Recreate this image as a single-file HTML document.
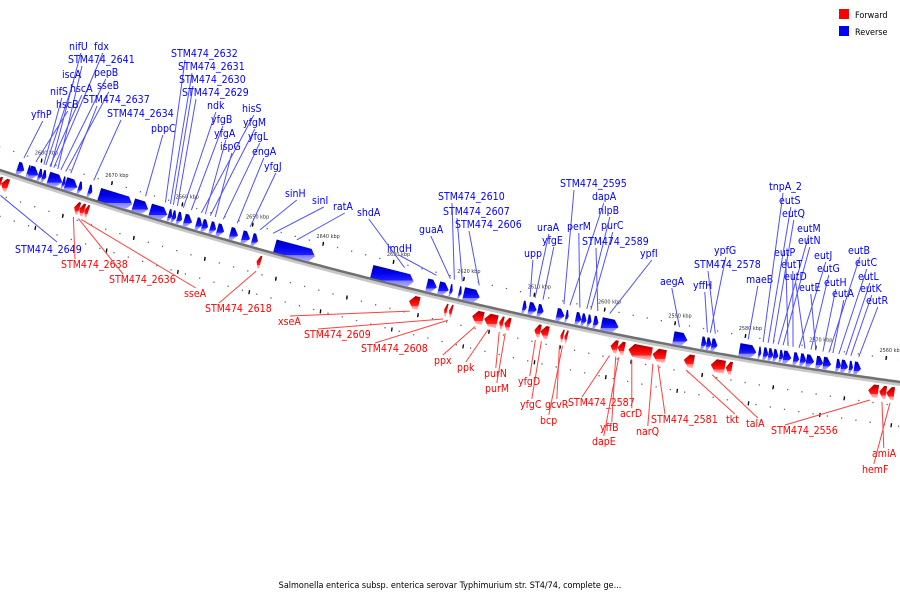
<!DOCTYPE html>
<html><head><meta charset="utf-8"><style>
html,body{margin:0;padding:0;background:#fff;}
svg{display:block;font-family:"DejaVu Sans Condensed","DejaVu Sans","Liberation Sans",sans-serif;}
.lb{font-size:10.5px;font-stretch:condensed;}
</style></head><body>
<svg id="chart" width="900" height="600" viewBox="0 0 900 600" xmlns="http://www.w3.org/2000/svg">
<defs>
<linearGradient id="gb" x1="0" y1="0" x2="0" y2="1"><stop offset="0" stop-color="#0000a0"/><stop offset="0.35" stop-color="#0000ee"/><stop offset="0.7" stop-color="#2020ff"/><stop offset="0.72" stop-color="#8080ff"/><stop offset="1" stop-color="#b0b0ff"/></linearGradient>
<linearGradient id="gr" x1="0" y1="0" x2="0" y2="1"><stop offset="0" stop-color="#a00000"/><stop offset="0.35" stop-color="#ee0000"/><stop offset="0.7" stop-color="#ff2020"/><stop offset="0.72" stop-color="#ff8080"/><stop offset="1" stop-color="#ffc0c0"/></linearGradient>
</defs>
<g id="tracks"></g>
<g id="genes"></g>
<g id="labels"></g>
<g>
<rect x="839" y="9" width="10" height="10" fill="#ff0000"/>
<text x="855" y="18" font-size="9" fill="#000">Forward</text>
<rect x="839" y="26" width="10" height="10" fill="#0000ff"/>
<text x="855" y="35" font-size="9" fill="#000">Reverse</text>
</g>
<text x="450" y="588" text-anchor="middle" font-size="9" fill="#000">Salmonella enterica subsp. enterica serovar Typhimurium str. ST4/74, complete ge...</text>
</svg>
<script>
// ---- data (kbp) ----
var blueStarts=[2682.83,2681.41,2681.13,2679.86,2679.29,2678.44,2676.46,2676.04,2674.20,2672.79,2671.23,2666.42,2664.02,2661.47,2660.91,2660.20,2659.21,2657.51,2656.66,2655.53,2654.54,2652.70,2651.00,2649.59,2646.34,2632.62,2624.84,2623.14,2621.58,2620.31,2619.61,2611.26,2610.40,2609.13,2606.45,2605.18,2603.76,2602.91,2602.07,2601.22,2600.08,2589.90,2585.93,2585.22,2584.51,2580.55,2577.86,2577.16,2576.45,2575.74,2574.89,2574.33,2572.91,2571.94,2571.09,2569.68,2568.69,2566.85,2566.15,2565.02,2564.31];
var blueEnds=  [2681.84,2680.99,2679.86,2679.29,2678.73,2676.46,2676.04,2674.34,2673.64,2672.22,2666.56,2664.30,2661.61,2660.91,2660.34,2659.49,2658.08,2656.66,2655.81,2654.68,2653.55,2651.57,2649.87,2648.74,2640.68,2626.68,2623.42,2621.73,2621.16,2619.89,2617.34,2610.69,2609.27,2608.28,2605.32,2604.75,2602.91,2602.21,2601.50,2600.51,2597.68,2587.91,2585.22,2584.51,2583.66,2578.15,2577.44,2576.45,2575.74,2575.04,2574.33,2573.20,2572.07,2571.09,2569.96,2568.69,2567.56,2566.15,2565.16,2564.45,2563.32];
var redStarts=[2684.95,2684.24,2673.92,2673.21,2672.50,2648.18,2626.68,2621.73,2621.02,2617.77,2616.07,2613.95,2613.24,2608.99,2608.14,2605.32,2604.75,2598.25,2597.26,2595.71,2592.31,2587.91,2584.10,2581.98,2561.90,2560.35,2559.36];
var redEnds=  [2684.24,2683.25,2673.21,2672.50,2671.94,2647.61,2625.26,2621.30,2620.59,2616.21,2614.23,2613.38,2612.40,2608.14,2607.01,2604.89,2604.33,2597.26,2596.27,2592.45,2590.47,2586.49,2582.12,2581.13,2560.49,2559.36,2558.23];
var tickKbp=[2680,2670,2660,2650,2640,2630,2620,2610,2600,2590,2580,2570,2560];
var tickLabels=["2680 kbp","2670 kbp","2660 kbp","2650 kbp","2640 kbp","2630 kbp","2620 kbp","2610 kbp","2600 kbp","2590 kbp","2580 kbp","2570 kbp","2560 kbp"];
// labels (layout)
var blueNames=["nifU","fdx","STM474_2641","iscA","pepB","hscA","nifS","sseB","hscB","STM474_2637","yfhP","STM474_2634","pbpC","STM474_2632","STM474_2631","STM474_2630","STM474_2629","ndk","yfgB","hisS","yfgA","yfgM","ispG","yfgL","engA","yfgJ","sinH","sinI","ratA","shdA","imdH","guaA","STM474_2610","STM474_2607","STM474_2606","upp","uraA","yfgE","STM474_2595","dapA","perM","nlpB","purC","STM474_2589","ypfI","aegA","ypfG","STM474_2578","yffH","maeB","tnpA_2","eutS","eutQ","eutM","eutN","eutP","eutT","eutJ","eutD","eutG","eutE","eutH","eutB","eutC","eutL","eutK","eutA","eutR"];
var blueLX=[69,94,68,62,94,70,50,97,56,83,31,107,151,171,178,179,182,207,211,242,214,243,220,248,252,264,285,312,333,357,387,419,438,443,455,524,537,542,560,592,567,598,601,582,640,660,714,694,693,746,769,779,782,797,798,774,781,814,784,817,799,824,848,855,858,860,832,866];
var blueLY=[50,50,63,78,76,92,95,89,108,103,118,117,132,57,70,83,96,109,123,112,137,126,150,140,155,170,197,204,210,216,252,233,200,215,228,257,231,244,187,200,230,214,229,245,257,285,254,268,289,283,190,204,217,232,244,256,268,259,280,272,291,286,254,266,280,292,297,304];
var blueAnchorX=[45,48,52,40,55,44,38,60,30,65,18,88,140,160,165,168,172,178,186,196,200,205,210,218,232,245,255,268,292,400,432,446,450,458,475,526,531,539,560,566,576,583,587,594,606,676,707,712,704,745,760,765,770,775,780,785,790,796,802,808,813,820,826,836,843,848,830,856];
var redNames=["STM474_2638","STM474_2636","sseA","STM474_2618","xseA","STM474_2609","STM474_2608","ppx","ppk","purN","purM","yfgD","yfgC","gcvR","bcp","STM474_2587","yffB","dapE","acrD","narQ","STM474_2581","tkt","talA","STM474_2556","amiA","hemF"];
var redLX=[61,109,184,205,278,304,361,434,457,484,485,518,520,545,540,568,600,592,620,636,651,726,746,771,872,862];
var redLY=[268,283,297,312,325,338,352,364,371,377,392,385,408,408,424,406,431,445,417,435,423,423,427,434,457,473];
var redAnchorX=[80,85,88,262,415,448,453,480,493,504,510,540,546,564,567,614,620,623,636,657,662,690,716,873,885,893];

// ---- axes ----
function xOf(k){return 35+(2680-k)*7.07;}
function yOf(x){return 170+0.3338*x-1.0913e-4*x*x;}
function slope(x){return 0.3338-2*1.0913e-4*x;}
function pt(x,off){var s=slope(x),n=Math.sqrt(1+s*s);return [x+(-s/n)*off,yOf(x)+(1/n)*off];}
var NS="http://www.w3.org/2000/svg";
function mk(tag,attrs,parent){var e=document.createElementNS(NS,tag);for(var a in attrs)e.setAttribute(a,attrs[a]);parent.appendChild(e);return e;}
var tracks=document.getElementById('tracks'),genes=document.getElementById('genes'),labels=document.getElementById('labels');

var d1="",d2="";
for(var x=-5;x<=905;x+=5){var p=pt(x,0),q=pt(x,2.5);d1+=(x===-5?"M":"L")+p[0].toFixed(1)+","+p[1].toFixed(1);d2+=(x===-5?"M":"L")+q[0].toFixed(1)+","+q[1].toFixed(1);}
var sh=mk('path',{d:d2,stroke:'#c8c8c8','stroke-width':3,fill:'none'},tracks);


var bb=mk('path',{d:d1,stroke:'#707070','stroke-width':2.5,fill:'none'},tracks);



for(var k=2686;k>=2556;k-=2){
  [-22,24,44].forEach(function(off,i){
    var kk=(i===0)?k:k-1;var xa=xOf(kk);var p=pt(xa,off);
    var dt=mk('rect',{x:p[0]-0.6,y:p[1]-0.6,width:1.3,height:1.3,fill:'#666'},tracks);
    
    
  });
}
for(var i=0;i<tickKbp.length;i++){
  var tx=xOf(tickKbp[i]);
  var p=pt(tx,-22);
  var t=mk('line',{x1:p[0],y1:p[1]-2,x2:p[0]-0.6,y2:p[1]+2,stroke:'#000','stroke-width':1.3},tracks);
  
  
  var lb=mk('text',{x:p[0]-7,y:p[1]-6,'font-size':5.5,fill:'#333'},tracks);
  lb.textContent=tickLabels[i];
  
  
  [24,44].forEach(function(off,j){
    var q=pt(xOf(tickKbp[i]-5+j*3),off);
    var t2=mk('line',{x1:q[0],y1:q[1]-2,x2:q[0]-0.6,y2:q[1]+2,stroke:'#000','stroke-width':1.3},tracks);
    
    
  });
}

function gene(ks,ke,fwd){
  var x1,x2;
  if(fwd){x1=xOf(ks);x2=xOf(ke);}else{x1=xOf(ks);x2=xOf(ke);}
  var a=Math.min(5,(x2-x1)*0.6);
  var o1,o2;
  if(fwd){o1=6;o2=19;}else{o1=-14;o2=-1;}
  var mid=(o1+o2)/2,pts;
  if(fwd){
    pts=[pt(x1,mid),pt(x1+a,o1),pt(x2,o1),pt(x2,o2),pt(x1+a,o2)];
  }else{
    pts=[pt(x1,o1),pt(x2-a,o1),pt(x2,mid),pt(x2-a,o2),pt(x1,o2)];
  }
  var s=pts.map(function(p){return p[0].toFixed(1)+","+p[1].toFixed(1);}).join(" ");
  return mk('polygon',{points:s,fill:fwd?'url(#gr)':'url(#gb)'},genes);
}
for(var i=0;i<blueStarts.length;i++){
  var g=gene(blueStarts[i],blueEnds[i],false);
  
  
}
for(var i=0;i<redStarts.length;i++){
  var g=gene(redStarts[i],redEnds[i],true);
  
  
}

function textW(s){return s.length*5.9;}
for(var i=0;i<blueNames.length;i++){
  var p=pt(blueAnchorX[i],-19);
  var cx=blueLX[i]+Math.min(textW(blueNames[i])/2,14);
  var ln=mk('line',{x1:cx,y1:blueLY[i]+3,x2:p[0],y2:p[1],stroke:'#5050ff','stroke-width':1},labels);
  
  
  var t=mk('text',{x:blueLX[i],y:blueLY[i],fill:'#0000ff','class':'lb'},labels);
  t.textContent=blueNames[i];
  
  
}
(function(){
  var p=pt(8,24);
  var ln=mk('line',{x1:57,y1:242,x2:p[0],y2:p[1],stroke:'#5050ff','stroke-width':1},labels);
  
  
  var t=mk('text',{x:15,y:253,fill:'#0000ff','class':'lb'},labels);
  t.textContent='STM474_2649';
  
  
})();
for(var i=0;i<redNames.length;i++){
  var p=pt(redAnchorX[i],22);
  var cx=redLX[i]+Math.min(textW(redNames[i])/2,14);
  var ln=mk('line',{x1:cx,y1:redLY[i]-9,x2:p[0],y2:p[1],stroke:'#ff4040','stroke-width':1},labels);
  
  
  var t=mk('text',{x:redLX[i],y:redLY[i],fill:'#ff0000','class':'lb'},labels);
  t.textContent=redNames[i];
  
  
}
</script>
</body></html>
